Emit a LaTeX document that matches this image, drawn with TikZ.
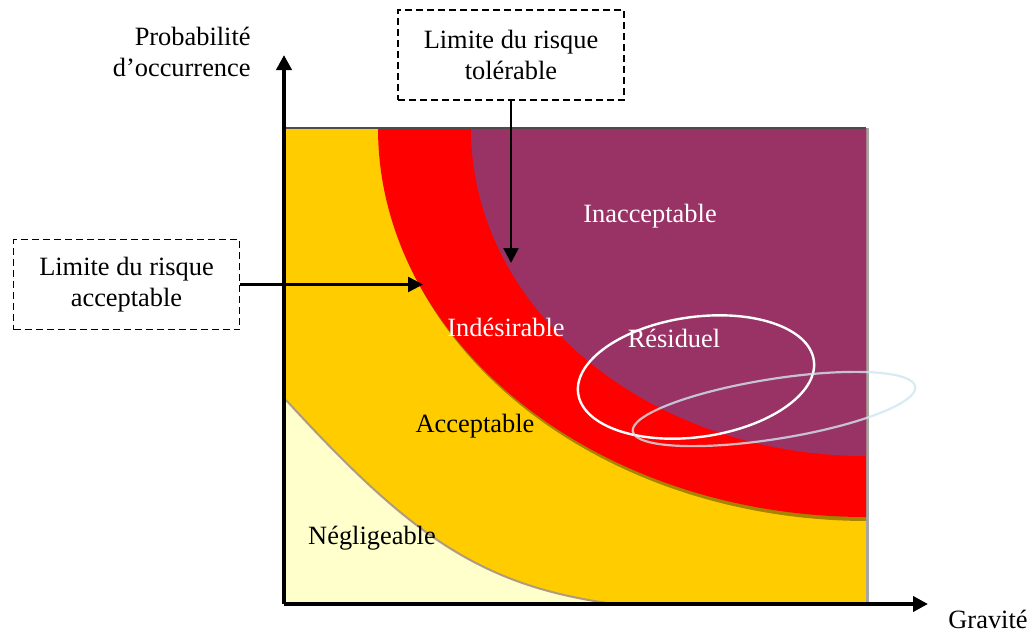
\documentclass[tikz,border=0pt]{standalone}
\usepackage{fontspec}
\setmainfont{Liberation Serif}
\usetikzlibrary{positioning, arrows.meta}

\definecolor{jaune}{HTML}{FFCC00}
\definecolor{pale}{HTML}{FFFFCC}
\definecolor{rouge}{HTML}{FF0000}
\definecolor{violet}{HTML}{993366}
\definecolor{bord}{HTML}{B09A80}
\definecolor{ciel}{HTML}{CFE6EF}

\begin{document}
\begin{tikzpicture}[x=0.5pt,y=0.5pt,
        font=\fontsize{13.2}{15.5}\selectfont,
        limite/.style={draw, dash pattern=on 3.5pt off 2pt, line width=0.75pt,
            minimum width=113pt, minimum height=45pt, align=center},
        axe/.style={line width=2pt, -{Triangle[length=7.5pt,width=7.5pt]}},
        fleche/.style={line width=1.2pt, -{Triangle[length=7.5pt,width=7.5pt]}},
        zone/.style={inner sep=0pt}]
        \useasboundingbox (0,0) rectangle (1029,634);

        % zones
        \fill[black!35] (866,31) rectangle (869,506);
        \begin{scope}
            \clip (286,31) rectangle (866,506);
            \fill[jaune] (286,31) rectangle (866,506);
            \fill[pale] (286,31) -- (286,234) .. controls (407,102) and (477,50) .. (607,31) -- cycle;
            \draw[bord, line width=1pt] (286,234) .. controls (407,102) and (477,50) .. (607,31);
            \fill[black, opacity=0.35] (868,502) ellipse [x radius=488, y radius=389];
            \fill[rouge] (866,506) ellipse [x radius=488, y radius=389];
            \fill[violet] (866,506) ellipse [x radius=395, y radius=328];
        \end{scope}
        \draw[black!70, line width=0.6pt] (284,506) -- (866,506);

        \draw[white, line width=1.2pt, rotate around={8:(696,257)}] (696,257) ellipse [x radius=119, y radius=60];
        \draw[ciel, opacity=0.8, line width=1.1pt, rotate around={9:(774,225)}] (774,225) ellipse [x radius=143, y radius=30];

        % axes
        \coordinate (O) at (284,30);
        \coordinate (ytop) at (284,579);
        \coordinate (xend) at (928,30);
        \draw[axe] (O) -- (ytop);
        \draw[axe] (O) -- (xend);
        \node[zone, anchor=east, align=right] (proba) at (251,582) {Probabilité\\d’occurrence};
        \node[zone] (gravite) at (988,15) {Gravité};

        % limites
        \node[limite] (tolbox) at (511,579) {Limite du risque\\tolérable};
        \node[limite] (accbox) at (126.5,349.5) {Limite du risque\\acceptable};
        \coordinate (tolpt) at (511,371);
        \coordinate (accpt) at (423,349.5);
        \draw[fleche] (tolbox) -- (tolpt);
        \draw[fleche] (accbox) -- (accpt);

        % noms des zones
        \node[zone, text=white] (inacc) at (650,418) {Inacceptable};
        \node[zone, text=white] (indes) at (506,307) {Indésirable};
        \node[zone, text=white] (resid) at (674,296) {Résiduel};
        \node[zone] (accept) at (475,208) {Acceptable};
        \node[zone] (neglig) at (372,96) {Négligeable};
    \end{tikzpicture}
\end{document}
